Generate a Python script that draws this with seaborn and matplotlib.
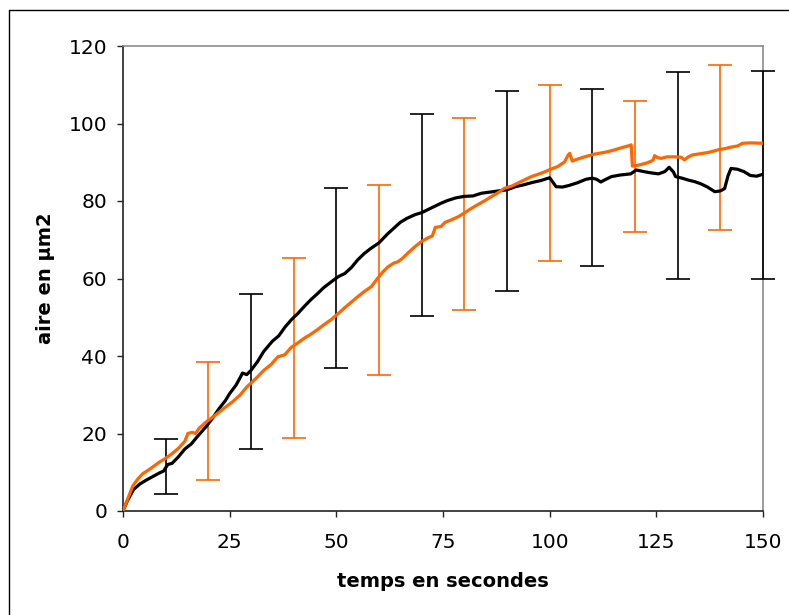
import matplotlib
matplotlib.use("Agg")
import matplotlib.pyplot as plt
from matplotlib.lines import Line2D
import numpy as np
import pandas as pd
import seaborn as sns

# --- mean area curves (time in s, area in µm²) ---
t_black = [0, 1, 2.5, 4, 5.5, 7, 8.5, 9.5, 10.5, 11.5, 13, 14.5, 16, 17.5, 19.5,
           21, 22.5, 24, 25, 26.5, 27.5, 28, 29, 30, 31.5, 33, 35, 36.5, 38, 39.5,
           41, 42.5, 44, 45.5, 47, 49, 50.5, 52, 53.5, 55, 56.5, 58, 60, 62, 63.5,
           65, 66.5, 68.5, 70, 71.5, 73, 74.5, 76, 78, 80, 82, 84, 86, 88, 90, 92,
           94, 96, 98, 100, 101.5, 103, 104.5, 106.5, 108.5, 110, 111, 112, 113,
           114.5, 116.5, 119, 120.3, 122, 123.5, 125.5, 127, 128, 129, 129.5, 131,
           132.5, 134, 135.5, 137, 138.7, 140, 141, 141.8, 142.5, 144, 145.5, 147,
           148.5, 150]
area_black = [0, 2.6, 5.6, 7.0, 8.0, 8.9, 9.8, 10.3, 12.0, 12.3, 14.0, 16.0, 17.3,
              19.3, 21.8, 24.0, 26.4, 28.5, 30.3, 32.5, 34.5, 35.6, 35.2, 36.3, 38.5,
              41.2, 43.8, 45.2, 47.5, 49.4, 51.0, 52.8, 54.5, 56.0, 57.6, 59.3, 60.5,
              61.3, 62.8, 64.8, 66.4, 67.7, 69.2, 71.5, 73.0, 74.5, 75.5, 76.5, 77.0,
              77.8, 78.6, 79.4, 80.1, 80.8, 81.2, 81.3, 82.0, 82.3, 82.6, 82.9, 83.7,
              84.2, 84.8, 85.3, 86.0, 83.7, 83.6, 84.0, 84.7, 85.6, 85.9, 85.6, 84.9,
              85.5, 86.3, 86.7, 87.0, 88.0, 87.6, 87.3, 87.0, 87.6, 88.7, 87.5, 86.3,
              85.9, 85.4, 85.0, 84.4, 83.6, 82.4, 82.6, 83.2, 86.5, 88.4, 88.2, 87.6,
              86.6, 86.4, 86.9]

t_orange = [0, 1, 2.3, 3.5, 4.6, 6, 7, 8.5, 10, 11.5, 13, 14.5, 15.2, 16.2, 17,
            17.8, 19.5, 21, 22.5, 24, 25.7, 27.5, 29, 30, 31.6, 33, 34.7, 36.3, 37.9,
            39.4, 41, 42.5, 44, 45.7, 47, 48.8, 50.5, 51.9, 53.5, 55, 56.5, 58.2,
            59.5, 61, 62.1, 63.5, 64.4, 65.5, 66.7, 68.3, 69.9, 71.5, 72.5, 73.2,
            74.5, 75.5, 76.9, 78.5, 80, 81.5, 83.2, 84.8, 86.3, 88, 89.4, 91, 92.5,
            94, 95.7, 97.3, 98.8, 100, 101.9, 103.5, 104.3, 104.7, 105.3, 106.5,
            108.2, 110.5, 112.1, 113.5, 115.2, 117, 118.7, 119.1, 119.4, 121, 123,
            124.2, 124.6, 125.3, 126.1, 127.5, 129.3, 130.8, 131.6, 132.5, 133.5,
            135.3, 137, 138.5, 139.8, 141, 142.5, 144, 145.2, 147, 150]
area_orange = [0, 2.8, 6.5, 8.3, 9.6, 10.6, 11.4, 12.6, 13.6, 14.8, 16.2, 18.0,
               20.0, 20.3, 20.0, 21.3, 23.0, 24.2, 25.5, 26.8, 28.2, 30.0, 32.0, 33.0,
               34.7, 36.3, 37.8, 39.8, 40.3, 42.2, 43.4, 44.6, 45.6, 46.9, 48.0, 49.4,
               51.0, 52.4, 53.9, 55.3, 56.6, 57.9, 59.8, 61.8, 63.0, 64.0, 64.3, 65.2,
               66.5, 68.1, 69.5, 70.5, 71.0, 73.2, 73.4, 74.5, 75.1, 75.9, 76.9, 78.0,
               79.1, 80.1, 81.1, 82.2, 83.3, 83.8, 84.6, 85.4, 86.3, 86.9, 87.5, 88.1,
               88.9, 90.1, 91.8, 92.3, 90.3, 90.8, 91.4, 92.1, 92.4, 92.7, 93.2, 93.8,
               94.3, 94.5, 89.0, 89.3, 89.9, 90.5, 91.7, 91.2, 91.0, 91.4, 91.4, 91.3,
               90.6, 91.4, 91.9, 92.2, 92.5, 92.9, 93.3, 93.5, 93.9, 94.2, 94.9, 95.0,
               94.9]

# --- standard deviations at sampled times ---
err_t_black = [10, 30, 50, 70, 90, 110, 130, 150]
err_mean_black = [11.5, 36.0, 60.05, 76.4, 82.7, 86.0, 86.6, 86.75]
err_sd_black = [7.1, 20.0, 23.25, 26.1, 25.8, 22.8, 26.6, 26.75]

err_t_orange = [20, 40, 60, 80, 100, 120, 140]
err_mean_orange = [23.25, 42.15, 59.6, 76.6, 87.3, 89.0, 93.8]
err_sd_orange = [15.25, 23.25, 24.5, 24.7, 22.7, 16.9, 21.3]

x_ticks = [0, 25, 50, 75, 100, 125, 150]
y_ticks = [0, 20, 40, 60, 80, 100, 120]

BLACK = "#000000"
ORANGE = "#FF6600"

sns.set_style("ticks")
plt.rcParams["font.family"] = ["DejaVu Sans"]

fig = plt.figure(figsize=(7.89, 6.15), dpi=100)
ax = fig.add_axes([123 / 789, 1 - 511 / 615, 640 / 789, 465 / 615])

df_black = pd.DataFrame({"t": t_black, "aire": area_black})
df_orange = pd.DataFrame({"t": t_orange, "aire": area_orange})

for xs, ms, sds, col in ((err_t_black, err_mean_black, err_sd_black, BLACK),
                         (err_t_orange, err_mean_orange, err_sd_orange, ORANGE)):
    _, caps, bars = ax.errorbar(xs, ms, yerr=sds, fmt="none", ecolor=col,
                                elinewidth=1.2, capsize=8.5, capthick=1.2, zorder=3)
    for artist in list(caps) + list(bars):
        artist.set_clip_on(False)

sns.lineplot(data=df_black, x="t", y="aire", ax=ax, color=BLACK, lw=2.3,
             estimator=None, sort=False, zorder=4)
sns.lineplot(data=df_orange, x="t", y="aire", ax=ax, color=ORANGE, lw=2.3,
             estimator=None, sort=False, zorder=5)

ax.set_xlim(0, 150)
ax.set_ylim(0, 120)
ax.set_xticks(x_ticks)
ax.set_yticks(y_ticks)
ax.tick_params(axis="both", direction="out", length=4.5, width=1, colors="#222222",
               labelsize=14.5, labelcolor="black")
ax.tick_params(axis="x", pad=11)
ax.tick_params(axis="y", pad=7)

for side in ("left", "bottom"):
    ax.spines[side].set_color("#222222")
    ax.spines[side].set_linewidth(1.2)
for side in ("top", "right"):
    ax.spines[side].set_visible(True)
    ax.spines[side].set_color("#8c8c8c")
    ax.spines[side].set_linewidth(1.2)

ax.set_xlabel("temps en secondes", fontsize=14, fontweight="bold", labelpad=15,
              color="black")
ax.set_ylabel("aire en µm2", fontsize=14, fontweight="bold", color="black")
ax.yaxis.set_label_coords(-0.106, 0.5)

# outer chart frame
fx = 8.7 / 789
fy = 1 - 10.3 / 615
fig.add_artist(Line2D([fx, fx], [0, fy], transform=fig.transFigure, color="black", lw=1))
fig.add_artist(Line2D([fx, 1], [fy, fy], transform=fig.transFigure, color="black", lw=1))

fig.savefig("out.png", dpi=100, facecolor="white")
